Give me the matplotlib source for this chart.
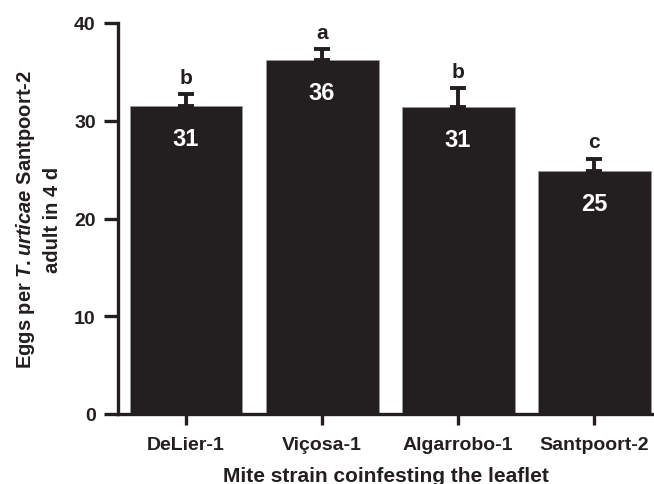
import matplotlib
matplotlib.use("Agg")
import matplotlib.pyplot as plt

fam = "Liberation Sans"
plt.rcParams['font.family'] = [fam, 'DejaVu Sans']
plt.rcParams['font.weight'] = 'bold'
plt.rcParams['mathtext.fontset'] = 'custom'
plt.rcParams['mathtext.it'] = fam + ':italic:bold'
plt.rcParams['mathtext.rm'] = fam + ':bold'
plt.rcParams['mathtext.bf'] = fam + ':bold'

categories = ["DeLier-1", "Viçosa-1", "Algarrobo-1", "Santpoort-2"]
means = [31.5, 36.25, 31.45, 24.9]
sems = [1.2, 1.05, 1.85, 1.2]
value_labels = ["31", "36", "31", "25"]
letters = ["b", "a", "b", "c"]
yticks = [0, 10, 20, 30, 40]

dark = "#231f20"
fig = plt.figure(figsize=(6.54, 4.85), dpi=100)
ax = fig.add_axes([118/654, 1-415/485, (654-118)/654, 391/485])

x = list(range(len(categories)))
ax.bar(x, means, width=0.83, color=dark, edgecolor="#9a9a9a", linewidth=0.5, zorder=2)
ax.errorbar(x, means, yerr=[[0]*4, sems], fmt="none", ecolor=dark,
            elinewidth=2.8, capsize=5.5, capthick=2.8, zorder=3)

for xi, m, s, vl, lt in zip(x, means, sems, value_labels, letters):
    ax.text(xi, m - 4.0, vl, ha="center", va="baseline", color="white",
            fontsize=17, fontweight="bold")
    ax.text(xi, m + s + 1.2, lt, ha="center", va="baseline", color=dark,
            fontsize=15, fontweight="bold")

ax.set_xlim(-0.5, 3.44)
ax.set_ylim(0, 40)
ax.set_yticks(yticks)
ax.set_xticks(x)
ax.set_xticklabels(categories, fontsize=14, fontweight="bold", color=dark)
ax.tick_params(axis="y", labelsize=14, width=2.4, length=10, pad=6,
               direction="out", color=dark, labelcolor=dark)
ax.tick_params(axis="x", width=2.4, length=8, pad=8, direction="out", color=dark)
for lab in ax.get_yticklabels():
    lab.set_fontweight("bold")
for sp in ["top", "right"]:
    ax.spines[sp].set_visible(False)
for sp in ["left", "bottom"]:
    ax.spines[sp].set_linewidth(2.4)
    ax.spines[sp].set_color(dark)

ax.set_ylabel("Eggs per $\\mathit{T. urticae}$ Santpoort-2\nadult in 4 d",
              fontsize=14.5, fontweight="bold", labelpad=9, linespacing=1.4, color=dark)
ax.set_xlabel("Mite strain coinfesting the leaflet", fontsize=15,
              fontweight="bold", labelpad=9, color=dark)

fig.savefig("out.png", dpi=100)
